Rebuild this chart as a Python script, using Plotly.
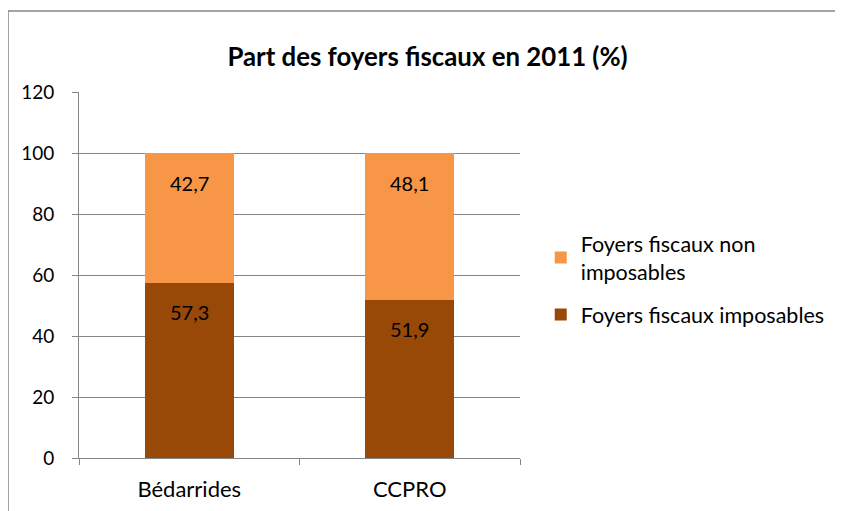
import plotly.graph_objects as go

categories = ["Bédarrides", "CCPRO"]
imposables = [57.3, 51.9]
non_imposables = [42.7, 48.1]
y_ticks = [0, 20, 40, 60, 80, 100, 120]

def fr(v):
    return f"{v:.1f}".replace(".", ",")

FONT = "Lato, 'Noto Sans', sans-serif"
GRID = "#868686"

fig = go.Figure()
fig.add_trace(go.Bar(
    x=categories, y=imposables, name="Foyers fiscaux imposables",
    legendgroup="g1", legendrank=2,
    marker=dict(color="#984807", line=dict(width=0)),
))
fig.add_trace(go.Bar(
    x=categories, y=non_imposables, name="Foyers fiscaux non<br>imposables",
    legendgroup="g2", legendrank=1,
    marker=dict(color="#F79646", line=dict(width=0)),
))

# value labels placed just below the top of each segment
for c, a, b in zip(categories, imposables, non_imposables):
    fig.add_annotation(x=c, y=a, text=fr(a), showarrow=False, yanchor="middle",
                       yshift=-29, font=dict(size=20, family=FONT, color="#000000"))
    fig.add_annotation(x=c, y=a + b, text=fr(b), showarrow=False, yanchor="middle",
                       yshift=-30, font=dict(size=20, family=FONT, color="#000000"))

fig.update_layout(
    width=843, height=511, autosize=False,
    barmode="stack", bargap=0.595,
    paper_bgcolor="white", plot_bgcolor="white",
    margin=dict(l=71, r=331, t=84, b=61, autoexpand=False),
    font=dict(family=FONT, size=20, color="#000000"),
    title=dict(text="<b>Part des foyers fiscaux en 2011 (%)</b>", x=0.4977, xref="container",
               xanchor="center", y=0.905, yanchor="middle",
               font=dict(size=25.8, family=FONT, color="#000000")),
    showlegend=True,
    legend=dict(traceorder="grouped", x=1.047, xref="paper", y=0.489, yref="paper",
                yanchor="middle", xanchor="left",
                font=dict(size=21.5, family=FONT), itemsizing="constant",
                tracegroupgap=12, bgcolor="rgba(0,0,0,0)"),
)
fig.update_yaxes(
    range=[0, 120], tickvals=y_ticks, showgrid=True, gridcolor=GRID, gridwidth=1,
    showline=True, linecolor=GRID, linewidth=1, ticks="outside", ticklen=6,
    tickcolor=GRID, zeroline=False, tickfont=dict(size=19), ticklabelstandoff=14,
)
fig.update_xaxes(
    showline=True, linecolor=GRID, linewidth=1, ticks="outside", ticklen=6,
    tickcolor=GRID, tickson="boundaries", tickfont=dict(size=22), tickangle=0,
    ticklabelstandoff=12,
)
fig.add_shape(type="rect", xref="paper", yref="paper", x0=-0.161, y0=-0.3,
              x1=1.9, y1=1.2213, line=dict(color="#868686", width=1.5),
              fillcolor="rgba(0,0,0,0)", layer="below")
fig.write_html("out.html")
